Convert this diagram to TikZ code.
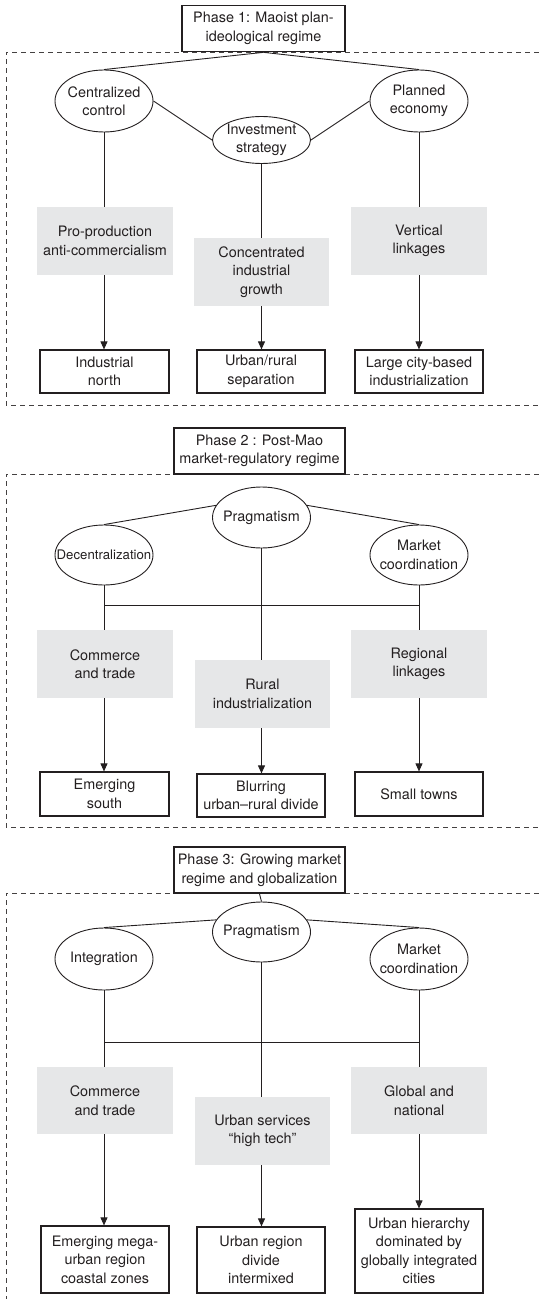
\documentclass[tikz,border=0pt]{standalone}
\usepackage{fontspec}
\setmainfont{TeX Gyre Heros}
\usetikzlibrary{shapes.geometric,arrows.meta}
\definecolor{ink}{HTML}{231F20}
\definecolor{boxgray}{HTML}{E6E7E8}
\begin{document}
\begin{tikzpicture}[x=1bp,y=-1bp,
  every node/.style={text=ink, font=\fontsize{14.4bp}{18.5bp}\selectfont, align=center, inner sep=0pt},
  titlebox/.style={draw=ink, fill=white, line width=1.7bp, minimum height=46bp},
  ell/.style={ellipse, draw=ink, line width=0.9bp, minimum width=98bp, minimum height=61bp},
  etxt/.style={},
  gbox/.style={fill=boxgray, minimum width=136bp, minimum height=68bp},
  obox/.style={draw=ink, line width=1.2bp, minimum width=128bp, minimum height=43bp},
  conn/.style={draw=ink, line width=0.9bp},
  arr/.style={conn, -{Triangle[length=8bp,width=7bp]}},
  frameline/.style={draw=ink!85, line width=0.8bp, dash pattern=on 5bp off 4bp}
]
\useasboundingbox (0,0) rectangle (539,1299);

% ---------------- frames ----------------
\draw[frameline] (539,52) -- (6,52) -- (6,405) -- (539,405);
\draw[frameline] (539,474) -- (6,474) -- (6,827) -- (539,827);
\draw[frameline] (539,893) -- (6,893) -- (6,1299);

% ---------------- Phase 1 ----------------
\node[titlebox, minimum width=163bp] (t1) at (263.5,28.5) {Phase 1: Maoist plan-\\ideological regime};
\node[ell, minimum height=62bp] (cc) at (104,101) {};
\node[etxt] (cct) at (cc) {Centralized\\control};
\node[ell, minimum height=47bp] (inv) at (261.5,140) {};
\node[etxt] (invt) at (inv) {Investment\\strategy};
\node[ell, minimum height=62bp] (pe) at (419,101) {};
\node[etxt] (pet) at (pe) {Planned\\economy};

\node[gbox] (g11) at (105,241) {Pro-production\\anti-commercialism};
\node[gbox, minimum width=135bp] (g12) at (261.5,272) {Concentrated\\industrial\\growth};
\node[gbox] (g13) at (419,241) {Vertical\\linkages};

\node[obox, minimum width=129bp] (b11) at (104.5,371.5) {Industrial\\north};
\node[obox] (b12) at (261,371.5) {Urban/rural\\separation};
\node[obox] (b13) at (419,371.5) {Large city-based\\industrialization};

\draw[conn] (t1.south) -- (cc.north);
\draw[conn] (t1.south) -- (pe.north);
\draw[conn] (cc.east) -- (inv.west);
\draw[conn] (pe.west) -- (inv.east);
\draw[conn] (cc.south) -- (cc.south |- g11.north);
\draw[conn] (inv.south) -- (inv.south |- g12.north);
\draw[conn] (pe.south) -- (pe.south |- g13.north);
\draw[arr] (cc.south |- g11.south) -- (cc.south |- b11.north);
\draw[arr] (inv.south |- g12.south) -- (inv.south |- b12.north);
\draw[arr] (pe.south |- g13.south) -- (pe.south |- b13.north);

% ---------------- Phase 2 ----------------
\node[titlebox, minimum width=171bp] (t2) at (259.5,451) {Phase 2 : Post-Mao\\market-regulatory regime};
\node[ell] (pr2) at (261.5,517.5) {};
\node[etxt] (pr2t) at (pr2) {Pragmatism};
\node[ell, minimum height=60bp] (de) at (104,555) {};
\node[etxt, font=\fontsize{13.2bp}{16bp}\selectfont] (det) at (de) {Decentralization};
\node[ell, minimum height=60bp] (mc2) at (419,555) {};
\node[etxt] (mc2t) at (mc2) {Market\\coordination};

\node[gbox] (g21) at (105,664) {Commerce\\and trade};
\node[gbox, minimum width=135bp] (g22) at (262.5,694) {Rural\\industrialization};
\node[gbox] (g23) at (419,664) {Regional\\linkages};

\node[obox, minimum width=129bp, minimum height=44bp] (b21) at (104.5,794) {Emerging\\south};
\node[obox] (b22) at (261,795.5) {Blurring\\urban--rural divide};
\node[obox, minimum height=44bp] (b23) at (419,794) {Small towns};

\coordinate (h2) at (0,605.7);
\draw[conn] (pr2.165) -- (de.north);
\draw[conn] (pr2.15) -- (mc2.north);
\draw[conn] (de.south) -- (de.south |- g21.north);
\draw[conn] (mc2.south) -- (mc2.south |- g23.north);
\draw[conn] (pr2.south) -- (pr2.south |- g22.north);
\draw[conn] (de.south |- h2) -- (mc2.south |- h2);
\draw[arr] (de.south |- g21.south) -- (de.south |- b21.north);
\draw[arr] (pr2.south |- g22.south) -- (pr2.south |- b22.north);
\draw[arr] (mc2.south |- g23.south) -- (mc2.south |- b23.north);

% ---------------- Phase 3 ----------------
\node[titlebox, minimum width=171bp] (t3) at (259.5,870) {Phase 3: Growing market\\regime and globalization};
\node[ell, minimum height=60bp] (pr3) at (261.5,932) {};
\node[etxt] (pr3t) at (pr3) {Pragmatism};
\node[ell, minimum height=62bp] (in3) at (104,959) {};
\node[etxt] (in3t) at (in3) {Integration};
\node[ell, minimum height=62bp] (mc3) at (419,959) {};
\node[etxt] (mc3t) at (mc3) {Market\\coordination};

\node[gbox, minimum height=67bp] (g31) at (105,1100.5) {Commerce\\and trade};
\node[gbox, minimum width=135bp] (g32) at (262.5,1131) {Urban services\\“high tech”};
\node[gbox, minimum height=67bp] (g33) at (419,1100.5) {Global and\\national};

\node[obox, minimum height=67bp] (b31) at (105,1259.5) {Emerging mega-\\urban region\\coastal zones};
\node[obox, minimum height=66bp] (b32) at (261,1260) {Urban region\\divide\\intermixed};
\node[obox, minimum height=84bp] (b33) at (419,1251) {Urban hierarchy\\dominated by\\globally integrated\\cities};

\coordinate (h3) at (0,1042.7);
\draw[conn] (t3.south) -- (pr3.north);
\draw[conn] (pr3.165) -- (in3.north);
\draw[conn] (pr3.15) -- (mc3.north);
\draw[conn] (in3.south) -- (in3.south |- g31.north);
\draw[conn] (mc3.south) -- (mc3.south |- g33.north);
\draw[conn] (pr3.south) -- (pr3.south |- g32.north);
\draw[conn] (in3.south |- h3) -- (mc3.south |- h3);
\draw[arr] (in3.south |- g31.south) -- (in3.south |- b31.north);
\draw[arr] (pr3.south |- g32.south) -- (pr3.south |- b32.north);
\draw[arr] (mc3.south |- g33.south) -- (mc3.south |- b33.north);
\end{tikzpicture}
\end{document}
